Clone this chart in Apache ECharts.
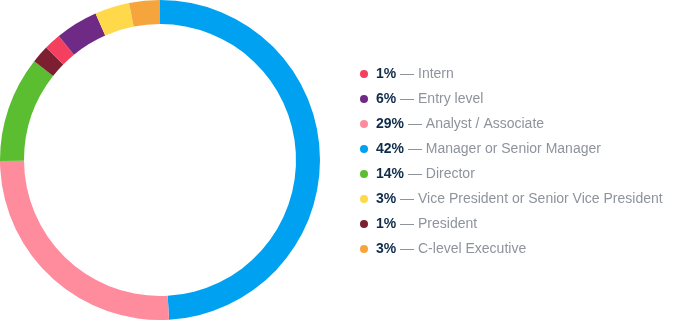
<!DOCTYPE html>
<html>
<head>
<meta charset="utf-8">
<script src="https://cdn.jsdelivr.net/npm/echarts@6/dist/echarts.min.js"></script>
<style>html,body{margin:0;padding:0;background:#fff;}#c{width:680px;height:320px;}</style>
</head>
<body>
<div id="c"></div>
<script>
// Slice order (clockwise from 12 o'clock) and measured slice shares
var sliceNames = ['Manager or Senior Manager', 'Analyst / Associate', 'Director', 'President', 'Intern', 'Entry level', 'Vice President or Senior Vice President', 'C-level Executive'];
var sliceValues = [49.1, 25.8, 10.7, 1.8, 1.7, 4.3, 3.5, 3.1];
var sliceColors = ['#00A1F1', '#FF8C9D', '#5BBE31', '#7B1F31', '#F43F5E', '#6E2A85', '#FFD94A', '#F6A53C'];
// Legend order and printed percentages
var legendNames = ['Intern', 'Entry level', 'Analyst / Associate', 'Manager or Senior Manager', 'Director', 'Vice President or Senior Vice President', 'President', 'C-level Executive'];
var legendPct = ['1%', '6%', '29%', '42%', '14%', '3%', '1%', '3%'];

var chart = echarts.init(document.getElementById('c'), null, {renderer: 'canvas'});
var pctMap = {};
legendNames.forEach(function (n, i) { pctMap[n] = legendPct[i]; });
var data = sliceNames.map(function (n, i) {
  return {name: n, value: sliceValues[i], itemStyle: {color: sliceColors[i]}};
});
var ff = 'Liberation Sans, Arial, sans-serif';
chart.setOption({
  animation: false,
  legend: {
    orient: 'vertical',
    left: 355,
    top: 61,
    data: legendNames,
    icon: 'circle',
    itemWidth: 8,
    itemHeight: 8,
    itemGap: 9,
    selectedMode: false,
    formatter: function (name) {
      return '{p|' + pctMap[name] + '}{d| — ' + name + '}';
    },
    textStyle: {
      fontFamily: ff,
      fontSize: 14,
      lineHeight: 16,
      padding: [0, 0, 0, 3],
      rich: {
        p: {fontWeight: 'bold', color: '#0F2D4A', fontSize: 14, fontFamily: ff, lineHeight: 16},
        d: {color: '#8E939C', fontSize: 14, fontFamily: ff, lineHeight: 16}
      }
    }
  },
  series: [{
    type: 'pie',
    center: [160, 160],
    radius: [136, 160],
    startAngle: 90,
    clockwise: true,
    label: {show: false},
    labelLine: {show: false},
    emphasis: {disabled: true},
    silent: true,
    data: data
  }]
});
</script>
</body>
</html>
